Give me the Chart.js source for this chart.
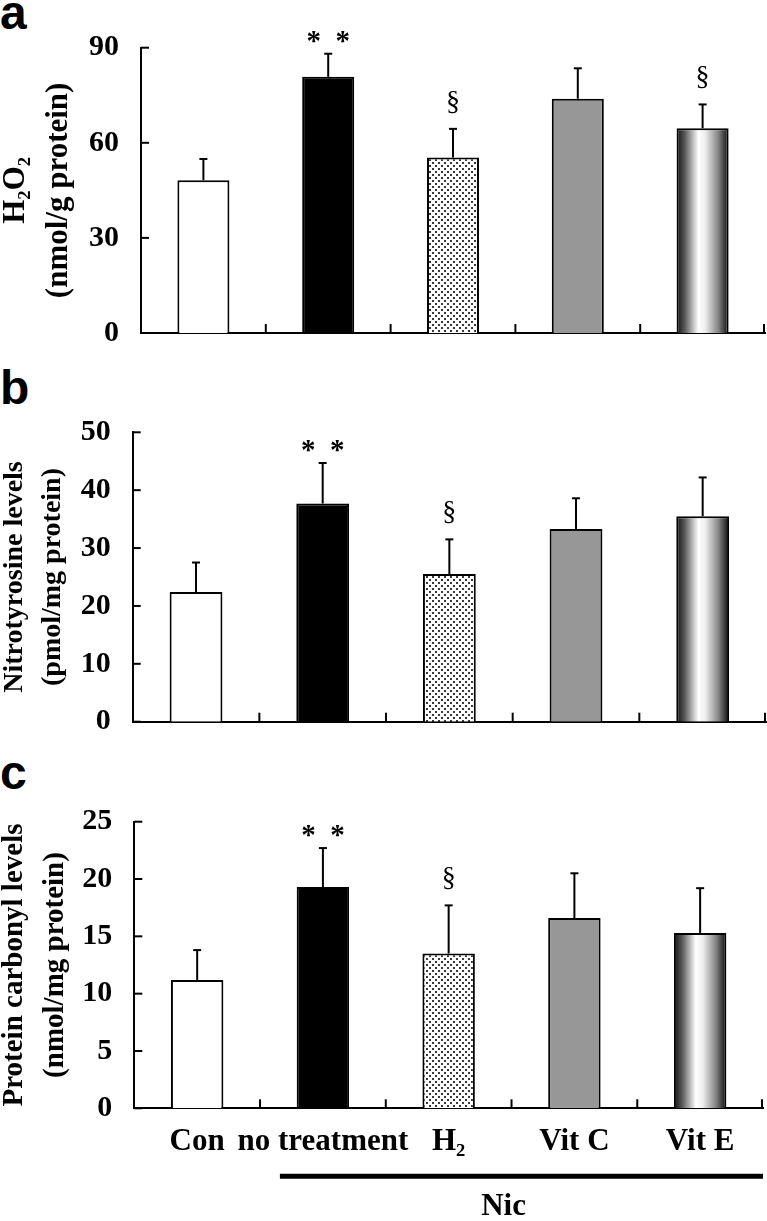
<!DOCTYPE html>
<html>
<head>
<meta charset="utf-8">
<script src="https://cdn.jsdelivr.net/npm/chart.js@4.4.1/dist/chart.umd.min.js"></script>
<style>
  body { margin: 0; background: #fff; width: 767px; height: 1221px; position: relative; overflow: hidden; }
  canvas { position: absolute; left: 0; }
  .panel { position: absolute; left: 0; font: bold 48px 'Liberation Sans', Arial, sans-serif; line-height: 1; color: #000; }
</style>
</head>
<body>
<div class="panel" style="top:-11px">a</div>
<div class="panel" style="top:364px">b</div>
<div class="panel" style="top:749px">c</div>
<canvas id="chartA" width="767" height="375" style="top:0"></canvas>
<canvas id="chartB" width="767" height="392" style="top:372px"></canvas>
<canvas id="chartC" width="767" height="455" style="top:766px"></canvas>
<script>
// groups
const categories = ['Con', 'no treatment', 'H\u2082', 'Vit C', 'Vit E'];

// a: H2O2 (nmol/g protein)
const h2o2Mean = [48.2, 80.8, 55.4, 73.9, 64.6];
const h2o2Err  = [6.7, 7.3, 9.0, 9.6, 7.5];
const h2o2Marks = ['', '*  *', '\u00a7', '', '\u00a7'];
const h2o2Ticks = [0, 30, 60, 90];

// b: nitrotyrosine (pmol/mg protein)
const nitroMean = [22.4, 37.7, 25.5, 33.3, 35.5];
const nitroErr  = [5.1, 7.0, 6.0, 5.3, 6.7];
const nitroMarks = ['', '*  *', '\u00a7', '', ''];
const nitroTicks = [0, 10, 20, 30, 40, 50];

// c: protein carbonyl (nmol/mg protein)
const carbonylMean = [11.2, 19.3, 13.5, 16.6, 15.3];
const carbonylErr  = [2.6, 3.4, 4.2, 3.9, 3.9];
const carbonylMarks = ['', '*  *', '\u00a7', '', ''];
const carbonylTicks = [0, 5, 10, 15, 20, 25];

const SERIF = "'Liberation Serif', 'Times New Roman', 'DejaVu Serif', serif";
const BAR_PCT = 0.417;

// dotted fill for the H2 bar
const dotCanvas = document.createElement('canvas');
dotCanvas.width = 6; dotCanvas.height = 6;
const dctx = dotCanvas.getContext('2d');
dctx.fillStyle = '#fff'; dctx.fillRect(0, 0, 6, 6);
dctx.fillStyle = '#3a3a3a';
dctx.fillRect(0, 0, 2, 2);
dctx.fillRect(3, 3, 2, 2);
const dotPattern = dctx.createPattern(dotCanvas, 'repeat');

function barFill(c) {
  const i = c.dataIndex;
  if (i === 0) return '#ffffff';
  if (i === 1) return '#000000';
  if (i === 2) return dotPattern;
  if (i === 3) return '#979797';
  // Vit E: cylinder-like shading
  const x = c.chart.scales.x;
  if (!x || !x.width) return '#999';
  const cx = x.getPixelForValue(i);
  const w = x.width / categories.length * BAR_PCT;
  const g = c.chart.ctx.createLinearGradient(cx - w / 2, 0, cx + w / 2, 0);
  g.addColorStop(0, '#111');
  g.addColorStop(0.15, '#555');
  g.addColorStop(0.42, '#ffffff');
  g.addColorStop(0.55, '#eeeeee');
  g.addColorStop(0.8, '#858585');
  g.addColorStop(0.95, '#2a2a2a');
  g.addColorStop(1, '#111');
  return g;
}

const decorations = {
  id: 'decorations',
  afterDatasetsDraw(chart, args, opts) {
    const { ctx, chartArea: area, scales: { x, y } } = chart;
    const n = categories.length;
    ctx.save();
    ctx.strokeStyle = '#000';
    ctx.lineWidth = 2;
    const seg = (x1, y1, x2, y2) => { ctx.beginPath(); ctx.moveTo(x1, y1); ctx.lineTo(x2, y2); ctx.stroke(); };

    // inward tick marks
    y.ticks.forEach(t => {
      const py = y.getPixelForValue(t.value);
      seg(area.left, py, area.left + 8, py);
    });
    for (let i = 1; i <= n; i++) {
      const px = i < n ? (x.getPixelForValue(i - 1) + x.getPixelForValue(i)) / 2 : area.right - 1;
      seg(px, area.bottom, px, area.bottom - 9);
    }

    // error bars and significance marks
    const means = chart.data.datasets[0].data;
    means.forEach((m, i) => {
      const px = x.getPixelForValue(i);
      const top = y.getPixelForValue(m + opts.errors[i]);
      seg(px, y.getPixelForValue(m), px, top);
      seg(px - 4, top, px + 4, top);
      const mark = opts.marks[i];
      if (!mark) return;
      ctx.fillStyle = '#000';
      ctx.textAlign = 'center';
      ctx.textBaseline = 'alphabetic';
      if (mark.indexOf('*') >= 0) {
        ctx.font = 'bold 29px ' + SERIF;
        ctx.fillText(mark, px, top - 4);
      } else {
        ctx.font = '28px ' + SERIF;
        ctx.fillText(mark, px, top - 19);
      }
    });

    // Nic bracket under the treated groups
    if (opts.nic) {
      ctx.lineWidth = 5;
      seg(x.getPixelForValue(1) - 43, area.bottom + 68, area.right, area.bottom + 68);
      ctx.font = 'bold 31px ' + SERIF;
      ctx.textAlign = 'center';
      ctx.textBaseline = 'middle';
      ctx.fillText('Nic', (x.getPixelForValue(2) + x.getPixelForValue(3)) / 2 - 8, area.bottom + 99);
    }
    ctx.restore();
  }
};

function makePanel(id, means, errors, marks, ticks, title, layout) {
  return new Chart(document.getElementById(id), {
    type: 'bar',
    data: {
      labels: categories,
      datasets: [{
        data: means,
        backgroundColor: barFill,
        borderColor: '#000',
        borderWidth: 2,
        barPercentage: BAR_PCT,
        categoryPercentage: 1
      }]
    },
    options: {
      responsive: false,
      animation: false,
      devicePixelRatio: 1,
      layout: { padding: { top: layout.top, right: layout.right, bottom: 0, left: 0 } },
      plugins: {
        legend: { display: false },
        tooltip: { enabled: false },
        decorations: { errors: errors, marks: marks, nic: layout.nic }
      },
      scales: {
        x: {
          offset: true,
          grid: { display: false, drawTicks: false },
          border: { color: '#000', width: 2 },
          ticks: {
            display: layout.labels,
            color: '#000',
            padding: 15,
            maxRotation: 0,
            autoSkip: false,
            font: { family: SERIF, size: 31, weight: 'bold' }
          },
          afterFit: s => { s.height = layout.xHeight; }
        },
        y: {
          min: ticks[0],
          max: ticks[ticks.length - 1],
          afterBuildTicks: s => { s.ticks = ticks.map(v => ({ value: v })); },
          grid: { display: false, drawTicks: false },
          border: { color: '#000', width: 2 },
          ticks: {
            color: '#000',
            padding: 22,
            font: { family: SERIF, size: 30, weight: 'bold' }
          },
          title: {
            display: true,
            text: title,
            color: '#000',
            padding: { top: -5, bottom: 0 },
            font: { family: SERIF, size: layout.titleSize, weight: 'bold', lineHeight: 1.38 }
          },
          afterFit: s => { s.width = layout.axisLeft; }
        }
      }
    },
    plugins: [decorations]
  });
}

makePanel('chartA', h2o2Mean, h2o2Err, h2o2Marks, h2o2Ticks,
  ['H\u2082O\u2082', '(nmol/g protein)'],
  { top: 47.7, right: 2, axisLeft: 141, xHeight: 42, labels: false, nic: false, titleSize: 31 });

makePanel('chartB', nitroMean, nitroErr, nitroMarks, nitroTicks,
  ['Nitrotyrosine levels', '(pmol/mg protein)'],
  { top: 60.3, right: 1, axisLeft: 132.7, xHeight: 42.3, labels: false, nic: false, titleSize: 28 });

makePanel('chartC', carbonylMean, carbonylErr, carbonylMarks, carbonylTicks,
  ['Protein carbonyl levels', '(nmol/mg protein)'],
  { top: 55.7, right: 4, axisLeft: 134.3, xHeight: 112.7, labels: true, nic: true, titleSize: 29 });
</script>
</body>
</html>
